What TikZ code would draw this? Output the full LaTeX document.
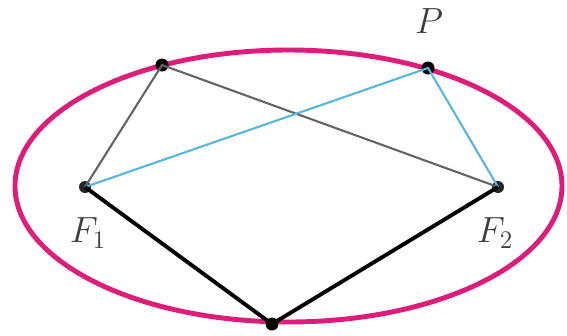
\documentclass[tikz,border=0pt]{standalone}
\usepackage{xcolor}
\definecolor{ellcol}{RGB}{222,28,122}
\definecolor{bluecol}{RGB}{86,182,222}
\definecolor{graycol}{RGB}{100,100,100}
\definecolor{txtcol}{RGB}{60,60,60}
\begin{document}
\begin{tikzpicture}[x=0.02cm,y=-0.02cm,
  dot/.style={circle,fill=black,inner sep=0pt,minimum size=0.26cm},
  fdot/.style={circle,fill=black!85,inner sep=0pt,minimum size=0.24cm},
  lbl/.style={font=\fontsize{21}{24}\selectfont,inner sep=0pt,text=txtcol},
  grayline/.style={draw=graycol,line width=1.2pt},
  blueline/.style={draw=bluecol,line width=1.2pt},
  blackline/.style={draw=black,line width=2.2pt,line join=round},
  ellline/.style={draw=ellcol,line width=2.8pt}]
\useasboundingbox (0,0) rectangle (567,335);
\draw[ellline] (288.5,186) ellipse [x radius=273.5, y radius=136];
\node[fdot] (F1) at (85,187) {};
\node[fdot] (F2) at (498,187) {};
\node[dot] (Q) at (162,65) {};
\node[dot] (P) at (428,68) {};
\node[dot] (B) at (272,324) {};
\draw[grayline] (F1.center) -- (Q.center) -- (F2.center);
\draw[blueline] (F1.center) -- (P.center) -- (F2.center);
\draw[blackline] (F1.center) -- (B.center) -- (F2.center);
\node[lbl] (Pl) at (429,21) {$P$};
\node[lbl] (F1l) at (88,233) {$F_1$};
\node[lbl] (F2l) at (495,233) {$F_2$};
\end{tikzpicture}
\end{document}
